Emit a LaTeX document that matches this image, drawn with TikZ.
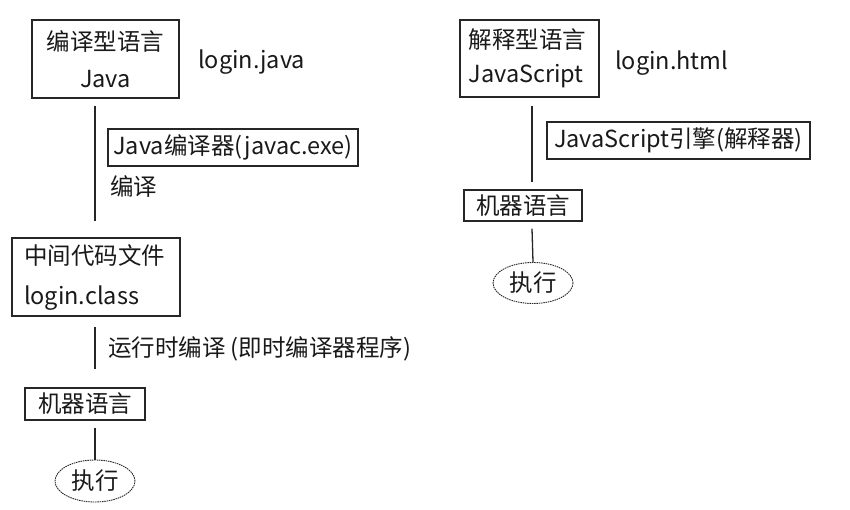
\documentclass[tikz,border=0pt]{standalone}
\usepackage{fontspec}
\usetikzlibrary{shapes.geometric}
\setmainfont{Noto Sans CJK SC}
\begin{document}
\begin{tikzpicture}[x=1pt,y=-1pt,
  every node/.style={inner sep=0pt, font=\fontsize{23.5}{35}\selectfont, text=black!90},
  box/.style={draw=black!85, line width=1.3pt, align=center},
  lbl/.style={anchor=west},
  conn/.style={draw=black!85, line width=1.3pt},
  oval/.style={draw=black!85, ellipse, line width=0.9pt, dash pattern=on 1.5pt off 0.8pt}]
\useasboundingbox (0,0) rectangle (850,510);
% left column
\node[box, minimum width=147, minimum height=78] (b1) at (105.5,59) {编译型语言\\[2pt]Java};
\node[lbl] (f1) at (198,62) {login.java};
\node[box, minimum width=250, minimum height=37] (c1) at (233,147.5) {Java编译器(javac.exe)};
\node[lbl] (t1) at (110,187) {编译};
\node[box, minimum width=168, minimum height=78, align=left, text width=144] (b2) at (96,277) {中间代码文件\\[5pt]login.class};
\node[lbl] (t2) at (108,349) {运行时编译 (即时编译器程序)};
\node[box, minimum width=120, minimum height=32] (m1) at (85,404) {机器语言};
\node[oval, minimum width=80, minimum height=42] (e1) at (95,481) {执行};
\coordinate (xl) at (95,0);
\draw[conn] ([yshift=-7pt]b1.south -| xl) -- ([yshift=16pt]b2.north -| xl);
\draw[conn] ([yshift=-10pt]b2.south -| xl) -- ([yshift=18pt]m1.north -| xl);
\draw[conn] ([yshift=-7pt]m1.south -| xl) -- (e1.north);
% right column
\node[box, minimum width=139, minimum height=77, align=left, text width=122] (b3) at (529.5,58.5) {解释型语言\\[-1pt]JavaScript};
\node[lbl] (f2) at (615,63) {login.html};
\node[box, minimum width=263, minimum height=37] (c2) at (678.5,140.5) {JavaScript引擎(解释器)};
\node[box, minimum width=118, minimum height=31] (m2) at (523,205.5) {机器语言};
\node[oval, minimum width=80, minimum height=41] (e2) at (533,283) {执行};
\coordinate (xr) at (532,0);
\draw[conn] ([yshift=-8pt]b3.south -| xr) -- ([yshift=7pt]m2.north -| xr);
\draw[conn] ([yshift=-7pt]m2.south -| xr) -- (e2.north);
\end{tikzpicture}
\end{document}
